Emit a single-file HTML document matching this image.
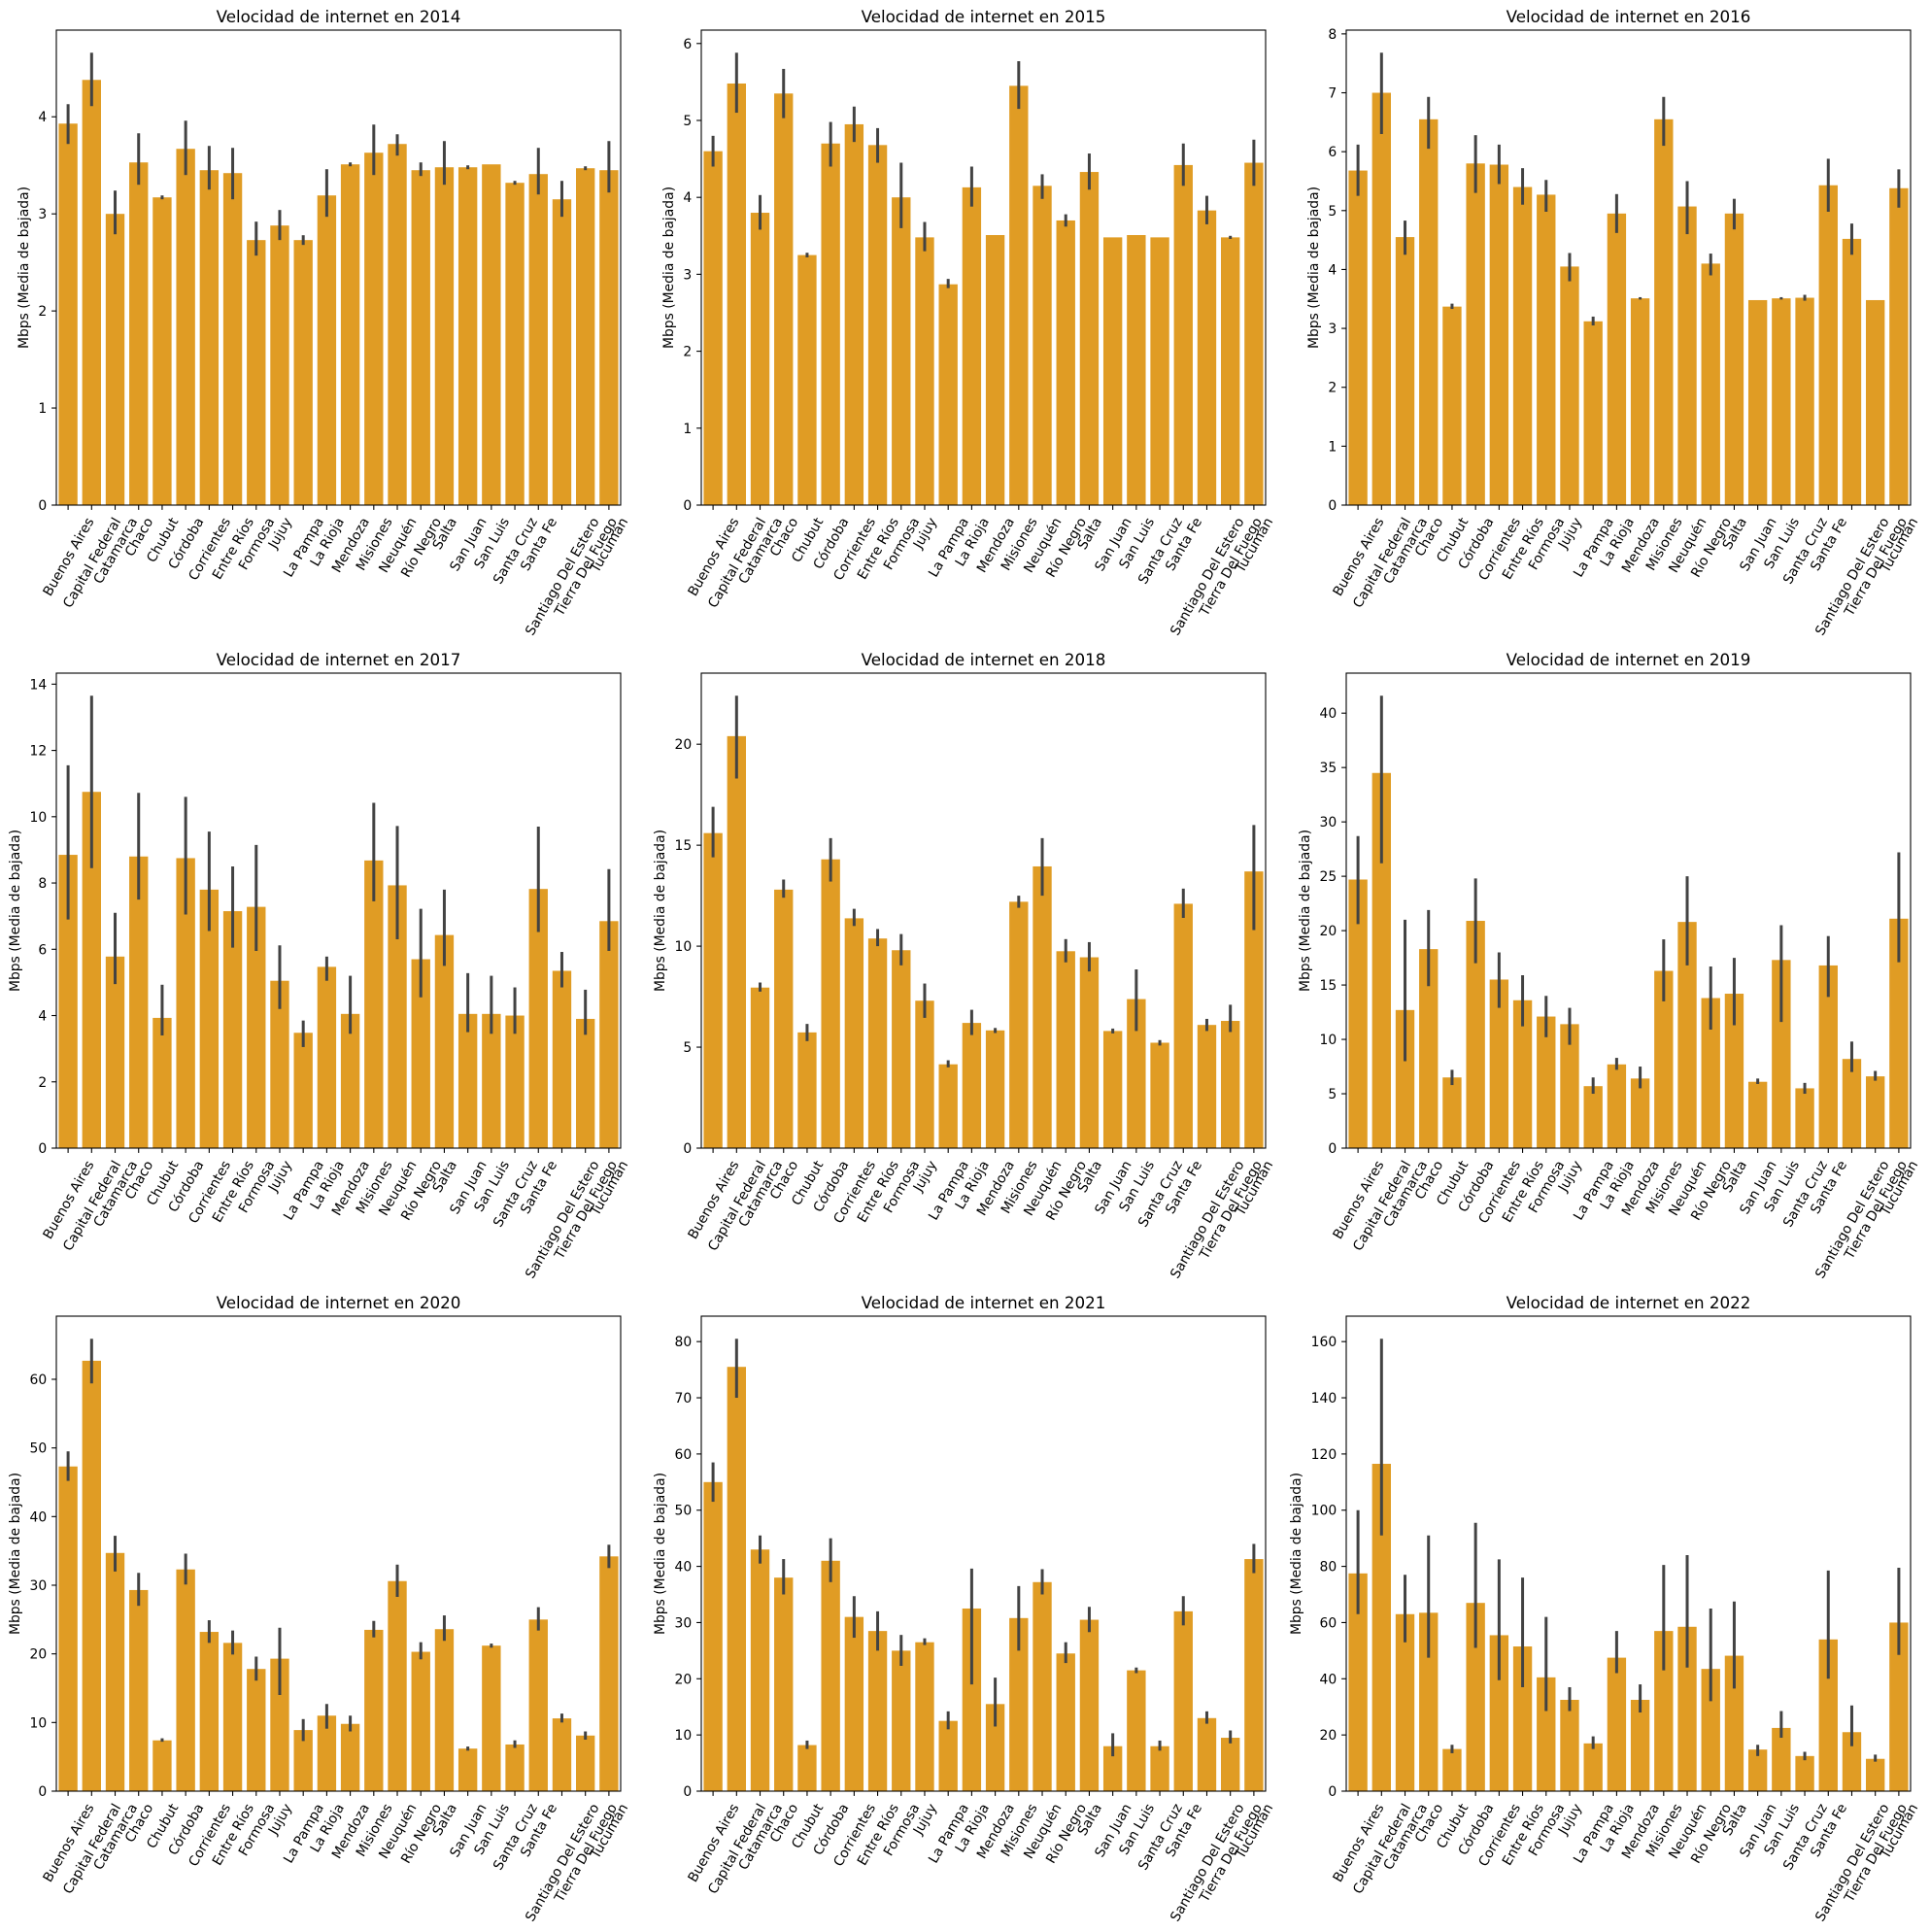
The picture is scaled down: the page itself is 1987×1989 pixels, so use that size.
<!DOCTYPE html>
<html><head><meta charset="utf-8"><style>
html,body{margin:0;padding:0;background:#fff}
svg{display:block;font-family:"DejaVu Sans","Liberation Sans",sans-serif}
</style></head><body>
<svg id="fig" width="1987" height="1989" viewBox="0 0 1987 1989" xmlns="http://www.w3.org/2000/svg"></svg>
<script>
const provinces = ["Buenos Aires","Capital Federal","Catamarca","Chaco","Chubut","Córdoba","Corrientes","Entre Ríos","Formosa","Jujuy","La Pampa","La Rioja","Mendoza","Misiones","Neuquén","Río Negro","Salta","San Juan","San Luis","Santa Cruz","Santa Fe","Santiago Del Estero","Tierra Del Fuego","Tucumán"];
const years = [2014,2015,2016,2017,2018,2019,2020,2021,2022];
const yTickStep = [1,1,1,2,5,5,10,10,20];

const mean2014 = [3.93,4.38,3.0,3.53,3.17,3.67,3.45,3.42,2.73,2.88,2.73,3.19,3.51,3.63,3.72,3.45,3.48,3.48,3.51,3.32,3.41,3.15,3.47,3.45];
const lo2014 = [3.72,4.11,2.79,3.3,3.15,3.4,3.25,3.15,2.57,2.73,2.68,2.97,3.49,3.4,3.6,3.39,3.3,3.46,null,3.3,3.2,2.97,3.45,3.22];
const hi2014 = [4.13,4.66,3.24,3.83,3.19,3.96,3.7,3.68,2.92,3.04,2.78,3.46,3.53,3.92,3.82,3.53,3.75,3.5,null,3.34,3.68,3.34,3.49,3.75];

const mean2015 = [4.6,5.48,3.8,5.35,3.25,4.7,4.95,4.68,4.0,3.48,2.87,4.13,3.51,5.45,4.15,3.7,4.33,3.48,3.51,3.48,4.42,3.83,3.48,4.45];
const lo2015 = [4.4,5.1,3.58,5.03,3.22,4.4,4.72,4.45,3.6,3.3,2.82,3.88,null,5.15,3.98,3.62,4.1,null,null,null,4.15,3.65,3.46,4.15];
const hi2015 = [4.8,5.88,4.03,5.67,3.28,4.98,5.18,4.9,4.45,3.68,2.94,4.4,null,5.77,4.3,3.78,4.57,null,null,null,4.7,4.02,3.5,4.75];

const mean2016 = [5.68,7.0,4.55,6.55,3.37,5.8,5.78,5.4,5.27,4.05,3.12,4.95,3.51,6.55,5.07,4.1,4.95,3.48,3.51,3.52,5.43,4.52,3.48,5.38];
const lo2016 = [5.25,6.3,4.25,6.05,3.33,5.3,5.45,5.1,4.98,3.8,3.05,4.62,3.49,6.1,4.6,3.9,4.68,null,3.49,3.47,4.98,4.25,null,5.05];
const hi2016 = [6.12,7.68,4.83,6.93,3.42,6.28,6.12,5.72,5.52,4.28,3.2,5.28,3.53,6.93,5.5,4.27,5.2,null,3.53,3.57,5.88,4.78,null,5.7];

const mean2017 = [8.85,10.75,5.78,8.8,3.93,8.75,7.8,7.15,7.28,5.05,3.48,5.47,4.05,8.68,7.93,5.7,6.43,4.05,4.05,4.0,7.82,5.35,3.9,6.85];
const lo2017 = [6.9,8.45,4.95,7.5,3.4,7.05,6.55,6.05,5.95,4.2,3.05,5.05,3.45,7.45,6.3,4.55,5.5,3.5,3.45,3.45,6.52,4.85,3.42,5.95];
const hi2017 = [11.55,13.65,7.1,10.72,4.93,10.6,9.55,8.5,9.15,6.12,3.85,5.78,5.2,10.42,9.72,7.22,7.8,5.28,5.2,4.85,9.7,5.92,4.78,8.42];

const mean2018 = [15.6,20.4,7.95,12.8,5.73,14.3,11.38,10.38,9.8,7.3,4.15,6.2,5.83,12.2,13.95,9.75,9.45,5.8,7.38,5.22,12.1,6.1,6.3,13.7];
const lo2018 = [14.4,18.3,7.75,12.4,5.3,13.2,11.0,10.0,9.05,6.45,4.0,5.6,5.7,11.9,12.5,9.2,8.75,5.68,5.8,5.08,11.4,5.8,5.75,10.8];
const hi2018 = [16.9,22.4,8.2,13.3,6.15,15.35,11.85,10.85,10.6,8.15,4.35,6.85,5.95,12.5,15.35,10.35,10.2,5.92,8.85,5.35,12.85,6.4,7.1,16.0];

const mean2019 = [24.7,34.5,12.7,18.3,6.5,20.9,15.5,13.6,12.1,11.4,5.7,7.7,6.4,16.3,20.8,13.8,14.2,6.1,17.3,5.5,16.8,8.2,6.6,21.1];
const lo2019 = [20.6,26.2,8.0,14.9,5.8,17.0,12.9,11.2,10.2,9.5,5.0,7.2,5.5,13.5,16.8,10.9,11.3,5.9,11.6,5.0,13.9,7.0,6.2,17.1];
const hi2019 = [28.7,41.6,21.0,21.9,7.2,24.8,18.0,15.9,14.0,12.9,6.5,8.3,7.5,19.2,25.0,16.7,17.5,6.4,20.5,6.0,19.5,9.8,7.1,27.2];

const mean2020 = [47.3,62.7,34.7,29.3,7.4,32.3,23.2,21.6,17.8,19.3,8.9,11.0,9.8,23.5,30.6,20.3,23.6,6.2,21.2,6.8,25.0,10.6,8.1,34.2];
const lo2020 = [45.2,59.4,32.0,27.0,7.2,30.1,21.6,19.9,16.1,14.0,7.3,9.1,8.7,22.4,28.3,19.2,21.9,5.9,20.9,6.3,23.4,10.0,7.5,32.5];
const hi2020 = [49.5,65.9,37.2,31.8,7.7,34.6,24.9,23.4,19.6,23.8,10.5,12.7,11.0,24.8,33.0,21.7,25.6,6.5,21.5,7.4,26.8,11.3,8.7,35.9];

const mean2021 = [55.0,75.5,43.0,38.0,8.2,41.0,31.0,28.5,25.0,26.5,12.5,32.5,15.5,30.8,37.2,24.5,30.5,8.0,21.5,8.0,32.0,13.0,9.5,41.3];
const lo2021 = [51.5,70.0,40.5,35.0,7.5,37.2,27.3,25.0,22.3,26.0,11.0,19.0,11.5,25.0,35.0,22.8,28.3,6.2,21.0,7.2,29.5,12.0,8.5,38.8];
const hi2021 = [58.5,80.5,45.5,41.3,9.0,45.0,34.7,32.0,27.8,27.2,14.2,39.6,20.2,36.5,39.5,26.5,32.8,10.3,22.0,9.0,34.7,14.2,10.8,44.0];

const mean2022 = [77.5,116.5,63,63.5,15,67,55.5,51.5,40.5,32.5,17,47.5,32.5,57,58.5,43.5,48.2,14.8,22.5,12.5,54,21,11.5,60];
const lo2022 = [63,91,53,47.5,13.5,51,39.5,37,28.5,28.5,15,42,28,43,44,32,36.5,12.5,19,11,40,16,10.5,48.5];
const hi2022 = [100,161,77,91,16.5,95.5,82.5,76,62,37,19.5,57,38,80.5,84,65,67.5,16.5,28.5,14,78.5,30.5,13,79.5];

const means = [mean2014,mean2015,mean2016,mean2017,mean2018,mean2019,mean2020,mean2021,mean2022];
const lows = [lo2014,lo2015,lo2016,lo2017,lo2018,lo2019,lo2020,lo2021,lo2022];
const highs = [hi2014,hi2015,hi2016,hi2017,hi2018,hi2019,hi2020,hi2021,hi2022];

const NS = "http://www.w3.org/2000/svg";
const svg = document.getElementById('fig');
const colLeft = [58,722,1386], rowTop = [31,693,1355];
const W = 581, H = 489;
function mk(tag, attrs, parent) {
  const e = document.createElementNS(NS, tag);
  for (const k in attrs) e.setAttribute(k, attrs[k]);
  parent.appendChild(e);
  return e;
}
years.forEach((yr, p) => {
  const L = colLeft[p % 3], T = rowTop[Math.floor(p / 3)], B = T + H;
  const mv = means[p], lo = lows[p], hi = highs[p];
  let top = 0;
  mv.forEach((v, i) => { top = Math.max(top, hi[i] == null ? v : hi[i]); });
  const yMax = top * 1.05;
  const y = v => B - v / yMax * H;
  const slot = W / provinces.length;
  const x = i => L + (i + 0.5) * slot;

  const g = mk('g', {}, svg);
  
  

  const title = mk('text', {x: L + W / 2, y: T - 8, 'text-anchor': 'middle', 'font-size': '16.7'}, g);
  
  
  title.textContent = 'Velocidad de internet en ' + yr;

  mv.forEach((v, i) => {
    const r = mk('rect', {x: x(i) - slot * 0.4, y: y(v), width: slot * 0.8, height: B - y(v), fill: '#e09c24'}, g);
    
    
  });
  mv.forEach((v, i) => {
    if (lo[i] == null) return;
    const l = mk('line', {x1: x(i), x2: x(i), y1: y(lo[i]), y2: y(hi[i]), stroke: '#424242', 'stroke-width': 3}, g);
    
    
  });
  const fr = mk('rect', {x: L, y: T, width: W, height: H, fill: 'none', stroke: '#000', 'stroke-width': 1.1}, g);
  
  

  const step = yTickStep[p];
  let maxW = 0;
  for (let t = 0; t <= yMax + 1e-9; t += step) {
    mk('line', {x1: L - 4.9, x2: L, y1: y(t), y2: y(t), stroke: '#000', 'stroke-width': 1.1}, g);
    const tl = mk('text', {x: L - 9.8, y: y(t) + 5, 'text-anchor': 'end', 'font-size': '13.9'}, g);
    
    
    tl.textContent = String(t);
    maxW = Math.max(maxW, tl.getComputedTextLength());
  }
  const ylx = L - 9.8 - maxW - 5.6 - 5;
  const yl = mk('text', {x: ylx, y: T + H / 2, 'text-anchor': 'middle', 'font-size': '13.9', transform: 'rotate(-90 ' + ylx + ' ' + (T + H / 2) + ')'}, g);
  
  
  yl.textContent = 'Mbps (Media de bajada)';

  const c60 = 0.5, s60 = Math.sqrt(3) / 2, th = 16.2;
  provinces.forEach((name, i) => {
    mk('line', {x1: x(i), x2: x(i), y1: B, y2: B + 4.9, stroke: '#000', 'stroke-width': 1.1}, g);
    const t = mk('text', {'text-anchor': 'middle', 'font-size': '13.9'}, g);
    
    
    t.textContent = name;
    const w = t.getComputedTextLength();
    const bh = w * s60 + th * c60;
    const cx = x(i), cy = B + 9.8 + bh / 2;
    t.setAttribute('x', cx);
    t.setAttribute('y', cy + 5);
    t.setAttribute('transform', 'rotate(-60 ' + cx + ' ' + cy + ')');
  });
});
</script>
</body></html>
